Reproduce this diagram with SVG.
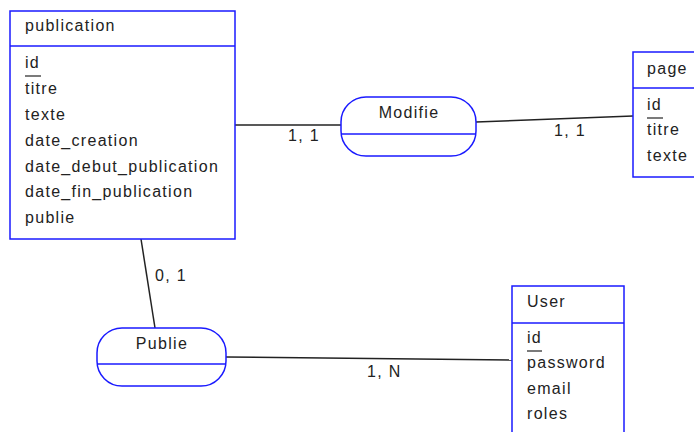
<svg xmlns="http://www.w3.org/2000/svg" width="694" height="432" viewBox="0 0 694 432">
<style>
.box{fill:#fff;stroke:#1a1aff;stroke-width:1.5}
.sep{stroke:#1a1aff;stroke-width:1.5}
.t{font-family:"Liberation Sans",Arial,sans-serif;font-size:16px;letter-spacing:1.3px;fill:#222}
.c{text-anchor:middle}
.ln{stroke:#222;stroke-width:1.5;fill:none}
.ul{stroke:#222;stroke-width:1.2}
</style>
<rect width="694" height="432" fill="#fff"/>
<g id="connectors">
<line class="ln" x1="235" y1="125" x2="341" y2="125"/>
<text class="t" x="288" y="141">1, 1</text>
<line class="ln" x1="476" y1="122" x2="633" y2="116"/>
<text class="t" x="554" y="136">1, 1</text>
<line class="ln" x1="141" y1="239" x2="155" y2="328"/>
<text class="t" x="155" y="281">0, 1</text>
<line class="ln" x1="226" y1="357" x2="512" y2="360"/>
<text class="t" x="367" y="377">1, N</text>
</g>
<g id="publication">
<rect class="box" x="10" y="11" width="225" height="228"/>
<line class="sep" x1="10" y1="46" x2="235" y2="46"/>
<text class="t" x="25" y="31">publication</text>
<text class="t" x="25" y="68">id</text>
<line class="ul" x1="25" y1="76" x2="41" y2="76"/>
<text class="t" x="25" y="94">titre</text>
<text class="t" x="25" y="120">texte</text>
<text class="t" x="25" y="146">date_creation</text>
<text class="t" x="25" y="172">date_debut_publication</text>
<text class="t" x="25" y="197">date_fin_publication</text>
<text class="t" x="25" y="223">publie</text>
</g>
<g id="page">
<rect class="box" x="633" y="52" width="80" height="125"/>
<line class="sep" x1="633" y1="88" x2="694" y2="88"/>
<text class="t" x="647" y="74">page</text>
<text class="t" x="647" y="110">id</text>
<line class="ul" x1="647" y1="118" x2="663" y2="118"/>
<text class="t" x="647" y="135">titre</text>
<text class="t" x="647" y="161">texte</text>
</g>
<g id="user">
<rect class="box" x="512" y="286" width="112" height="160"/>
<line class="sep" x1="512" y1="323" x2="624" y2="323"/>
<text class="t" x="527" y="307">User</text>
<text class="t" x="527" y="343">id</text>
<line class="ul" x1="527" y1="351" x2="542" y2="351"/>
<text class="t" x="527" y="368">password</text>
<text class="t" x="527" y="394">email</text>
<text class="t" x="527" y="419">roles</text>
</g>
<g id="modifie">
<rect class="box" x="341" y="97" width="135" height="59" rx="25" ry="25"/>
<line class="sep" x1="341" y1="134" x2="476" y2="134"/>
<text class="t c" x="409" y="118">Modifie</text>
</g>
<g id="publie">
<rect class="box" x="97" y="328" width="129" height="58" rx="25" ry="25"/>
<line class="sep" x1="97" y1="364" x2="226" y2="364"/>
<text class="t c" x="162" y="349">Publie</text>
</g>
</svg>
